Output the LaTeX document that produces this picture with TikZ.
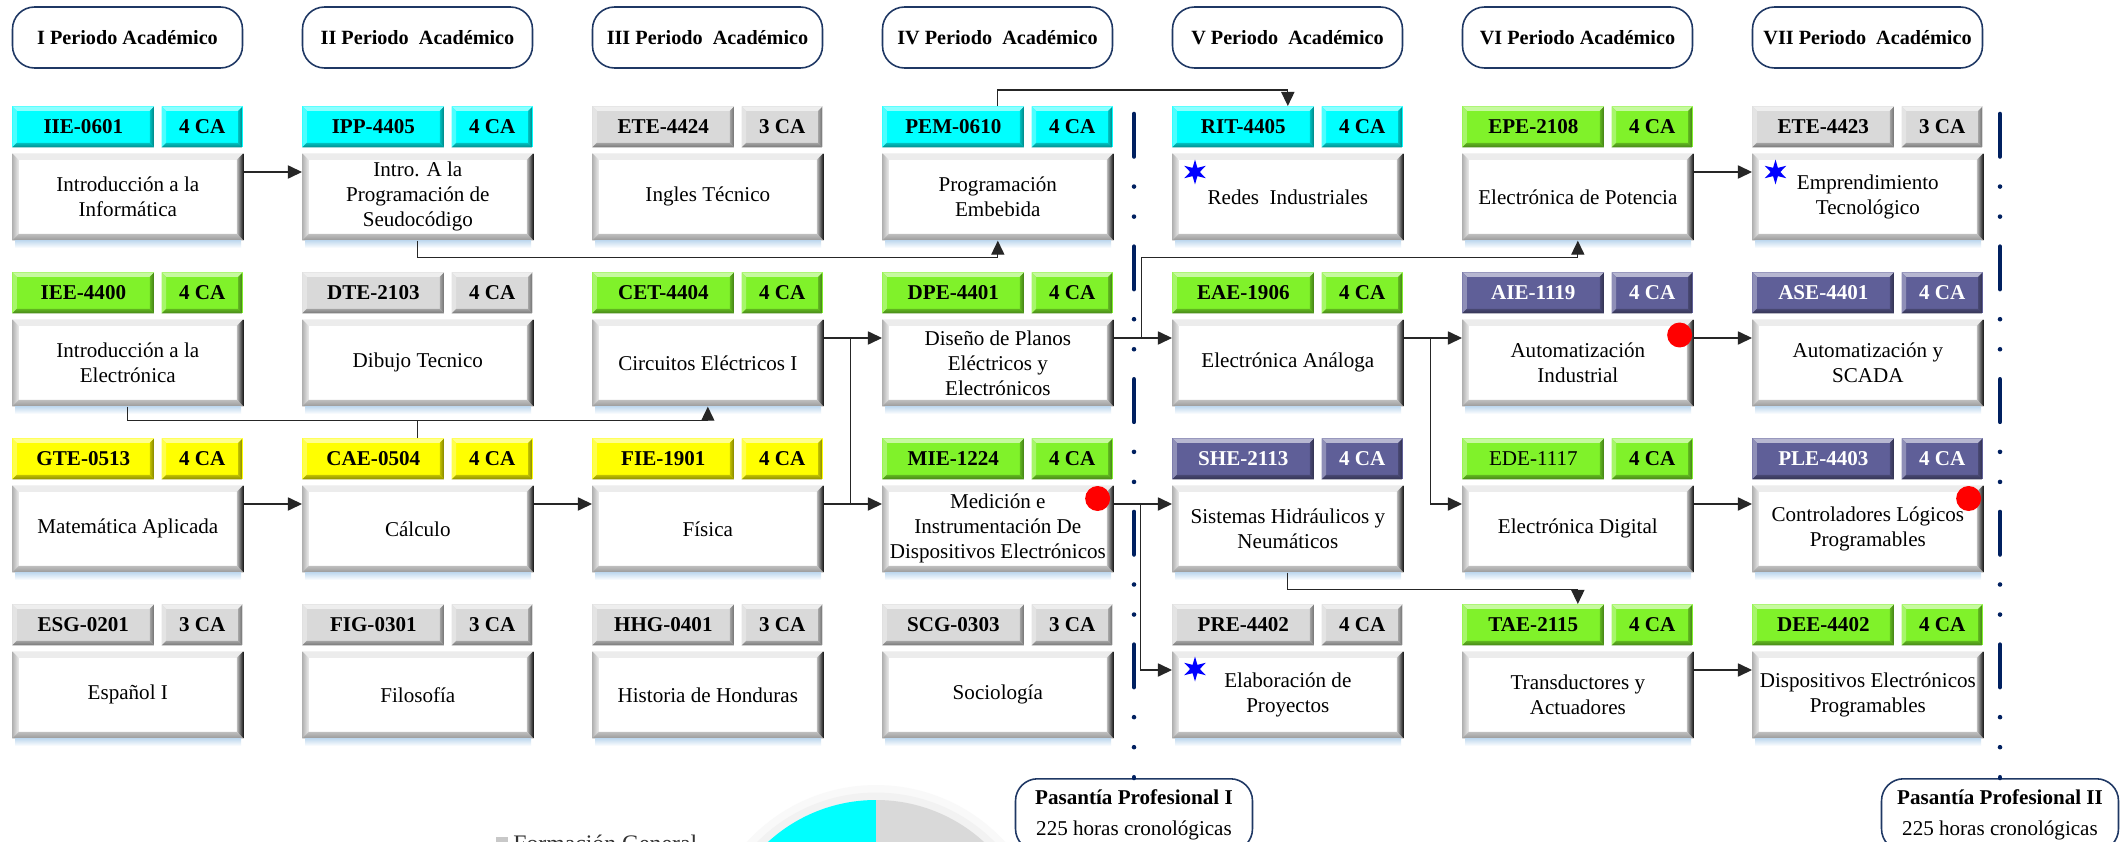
\documentclass[tikz,border=0pt]{standalone}
\usepackage{fontspec}
\setmainfont{Liberation Serif}
\usepackage{tikz}
\usetikzlibrary{arrows.meta,calc,shapes.geometric}
\definecolor{cian}{HTML}{00FFFF}
\definecolor{verde}{HTML}{80F22A}
\definecolor{amarillo}{HTML}{FFFF00}
\definecolor{gris}{HTML}{D9D9D9}
\definecolor{morado}{HTML}{5F5F98}
\definecolor{azul}{HTML}{1F3864}
\definecolor{marino}{HTML}{002060}
\definecolor{sombra}{HTML}{BDD7EE}
\definecolor{leyenda}{HTML}{C8C8C8}

\tikzset{
  bisel/.style n args={5}{path picture={
    \path (path picture bounding box.north west) coordinate (bnw)
          (path picture bounding box.north east) coordinate (bne)
          (path picture bounding box.south west) coordinate (bsw)
          (path picture bounding box.south east) coordinate (bse);
    \path[#2] (bnw) -- (bne) -- ([shift={(-#1,-#1)}]bne) -- ([shift={(#1,-#1)}]bnw) -- cycle;
    \path[#3] (bnw) -- ([shift={(#1,-#1)}]bnw) -- ([shift={(#1,#1)}]bsw) -- (bsw) -- cycle;
    \path[#4] (bne) -- (bse) -- ([shift={(-#1,#1)}]bse) -- ([shift={(-#1,-#1)}]bne) -- cycle;
    \path[#5] (bsw) -- ([shift={(#1,#1)}]bsw) -- ([shift={(-#1,#1)}]bse) -- (bse) -- cycle;
  }},
  cab/.style={minimum height=0.82cm, inner sep=0pt, font=\bfseries\fontsize{12}{14}\selectfont},
  hcol/.style={fill=#1, bisel={0.09cm}{fill=#1!45!white}{fill=#1!70!white}%
    {left color=#1!75!black, right color=#1!50!black}{top color=#1!75!black, bottom color=#1!55!black}},
  hcian/.style={hcol=cian},
  hverde/.style={hcol=verde},
  hamar/.style={hcol=amarillo},
  hgris/.style={hcol=gris},
  hmorado/.style={hcol=morado, text=white},
  cuerpo/.style={minimum width=4.62cm, minimum height=1.74cm, inner sep=0pt, fill=white,
    align=center, font=\fontsize{12}{14.2}\selectfont,
    bisel={0.13cm}{fill=gray!15}{left color=gray!60, right color=gray!15}%
      {left color=gray!50, right color=black!90}{top color=gray!50, bottom color=gray!80}},
  periodo/.style={draw=azul, line width=0.9pt, rounded corners=0.44cm, fill=white,
    minimum width=4.6cm, minimum height=1.22cm, font=\bfseries\fontsize{11.5}{13}\selectfont},
  pasantia/.style={draw=azul, line width=0.9pt, rounded corners=0.44cm, fill=white,
    align=center, minimum width=4.74cm, inner ysep=6pt, font=\fontsize{12}{18}\selectfont},
  linea/.style={draw=black!85, line width=0.7pt},
  flecha/.style={linea, -{Triangle[length=8pt,width=7.5pt]}},
  corte/.style={draw=marino, line width=2.6pt, line cap=round,
    dash pattern=on 24.2pt off 17.1pt on 0pt off 17.1pt on 0pt off 17.1pt},
  estrella/.style={star, star points=6, star point ratio=2.6, minimum size=0.5cm, inner sep=0pt, fill=blue},
  punto/.style={circle, fill=red, minimum size=0.5cm, inner sep=0pt}
}

% #1 nombre, #2 x, #3 y, #4 color, #5 codigo, #6 creditos, #7 asignatura
\newcommand{\curso}[7]{%
  \node[cab, #4, minimum width=2.84cm, anchor=north west] (#1c) at (#2,#3) {#5};
  \node[cab, #4, minimum width=1.62cm, anchor=north east] (#1k) at ({#2+231},#3) {#6};
  \node[cuerpo, anchor=north west] (#1) at (#2,{#3+47}) {#7};
  \shade[top color=sombra, bottom color=white] ({#2+3},{#3+134}) rectangle ({#2+229},{#3+142});
}

\begin{document}
\begin{tikzpicture}[x=0.02cm, y=-0.02cm]
	\path[use as bounding box, fill=white] (0,0) rectangle (2121,842);
	\clip (0,0) rectangle (2121,842);

	\node[periodo] (per1) at (127.5,37.5) {I Periodo Académico};
	\node[periodo] (per2) at (417.5,37.5) {II Periodo~ Académico};
	\node[periodo] (per3) at (707.5,37.5) {III Periodo~ Académico};
	\node[periodo] (per4) at (997.5,37.5) {IV Periodo~ Académico};
	\node[periodo] (per5) at (1287.5,37.5) {V Periodo~ Académico};
	\node[periodo] (per6) at (1577.5,37.5) {VI Periodo Académico};
	\node[periodo] (per7) at (1867.5,37.5) {VII Periodo~ Académico};

	\curso{iie}{12}{106}{hcian}{IIE-0601}{4 CA}{Introducción a la\\Informática}
	\curso{ipp}{302}{106}{hcian}{IPP-4405}{4 CA}{Intro. A la\\Programación de\\Seudocódigo}
	\curso{etea}{592}{106}{hgris}{ETE-4424}{3 CA}{Ingles Técnico}
	\curso{pem}{882}{106}{hcian}{PEM-0610}{4 CA}{Programación\\Embebida}
	\curso{rit}{1172}{106}{hcian}{RIT-4405}{4 CA}{Redes~ Industriales}
	\curso{epe}{1462}{106}{hverde}{EPE-2108}{4 CA}{Electrónica de Potencia}
	\curso{eteb}{1752}{106}{hgris}{ETE-4423}{3 CA}{Emprendimiento\\Tecnológico}

	\curso{iee}{12}{272}{hverde}{IEE-4400}{4 CA}{Introducción a la\\Electrónica}
	\curso{dte}{302}{272}{hgris}{DTE-2103}{4 CA}{Dibujo Tecnico}
	\curso{cet}{592}{272}{hverde}{CET-4404}{4 CA}{Circuitos Eléctricos I}
	\curso{dpe}{882}{272}{hverde}{DPE-4401}{4 CA}{Diseño de Planos\\Eléctricos y\\Electrónicos}
	\curso{eae}{1172}{272}{hverde}{EAE-1906}{4 CA}{Electrónica Análoga}
	\curso{aie}{1462}{272}{hmorado}{AIE-1119}{4 CA}{Automatización\\Industrial}
	\curso{ase}{1752}{272}{hmorado}{ASE-4401}{4 CA}{Automatización y\\SCADA}

	\curso{gte}{12}{438}{hamar}{GTE-0513}{4 CA}{Matemática Aplicada}
	\curso{cae}{302}{438}{hamar}{CAE-0504}{4 CA}{Cálculo}
	\curso{fie}{592}{438}{hamar}{FIE-1901}{4 CA}{Física}
	\curso{mie}{882}{438}{hverde}{MIE-1224}{4 CA}{Medición e\\Instrumentación De\\Dispositivos Electrónicos}
	\curso{she}{1172}{438}{hmorado}{SHE-2113}{4 CA}{Sistemas Hidráulicos y\\Neumáticos}
	\curso{ede}{1462}{438}{hverde}{\mdseries EDE-1117}{4 CA}{Electrónica Digital}
	\curso{ple}{1752}{438}{hmorado}{PLE-4403}{4 CA}{Controladores Lógicos\\Programables}

	\curso{esg}{12}{604}{hgris}{ESG-0201}{3 CA}{Español I}
	\curso{fig}{302}{604}{hgris}{FIG-0301}{3 CA}{Filosofía}
	\curso{hhg}{592}{604}{hgris}{HHG-0401}{3 CA}{Historia de Honduras}
	\curso{scg}{882}{604}{hgris}{SCG-0303}{3 CA}{Sociología}
	\curso{pre}{1172}{604}{hgris}{PRE-4402}{4 CA}{Elaboración de\\Proyectos}
	\curso{tae}{1462}{604}{hverde}{TAE-2115}{4 CA}{Transductores y\\Actuadores}
	\curso{dee}{1752}{604}{hverde}{DEE-4402}{4 CA}{Dispositivos Electrónicos\\Programables}

	\node[estrella] (est1) at ([xshift=0.46cm,yshift=-0.38cm]rit.north west) {};
	\node[estrella] (est2) at ([xshift=0.47cm,yshift=-0.38cm]eteb.north west) {};
	\node[estrella] (est3) at ([xshift=0.46cm,yshift=-0.36cm]pre.north west) {};
	\node[punto] (pto1) at ([xshift=-0.32cm,yshift=-0.27cm]mie.north east) {};
	\node[punto] (pto2) at ([xshift=-0.28cm,yshift=-0.32cm]aie.north east) {};
	\node[punto] (pto3) at ([xshift=-0.3cm,yshift=-0.27cm]ple.north east) {};

	\draw[flecha] ([yshift=-0.38cm]iie.north east) -- ([yshift=-0.38cm]ipp.north west);
	\draw[flecha] (ipp.south) -- ++(0,17) -| (pem.south);
	\draw[flecha] (pem.north |- pemc.north) -- ++(0,-16) -| (rit.north |- ritc.north);
	\draw[flecha] ([yshift=-0.38cm]epe.north east) -- ([yshift=-0.38cm]eteb.north west);

	\draw[flecha] (iee.south) -- ++(0,14) -| (cet.south);
	\draw[linea] (cae.north |- caec.north) -- ++(0,-18);
	\draw[flecha] ([yshift=-0.38cm]cet.north east) -- ([yshift=-0.38cm]dpe.north west);
	\draw[flecha] ([yshift=-0.38cm]fie.north east) -- ([yshift=-0.38cm]mie.north west);
	\draw[linea] ([xshift=0.54cm,yshift=-0.38cm]cet.north east) -- ([xshift=0.54cm,yshift=-0.38cm]fie.north east);
	\draw[flecha] ([yshift=-0.38cm]dpe.north east) -- ([yshift=-0.38cm]eae.north west);
	\draw[flecha] ([xshift=0.56cm,yshift=-0.38cm]dpe.north east) |- ([yshift=-0.34cm]epe.south) -- (epe.south);
	\draw[flecha] ([yshift=-0.38cm]eae.north east) -- ([yshift=-0.38cm]aie.north west);
	\draw[flecha] ([xshift=0.54cm,yshift=-0.38cm]eae.north east) |- ([yshift=-0.38cm]ede.north west);
	\draw[flecha] ([yshift=-0.38cm]aie.north east) -- ([yshift=-0.38cm]ase.north west);

	\draw[flecha] ([yshift=-0.38cm]gte.north east) -- ([yshift=-0.38cm]cae.north west);
	\draw[flecha] ([yshift=-0.38cm]cae.north east) -- ([yshift=-0.38cm]fie.north west);
	\draw[flecha] ([yshift=-0.38cm]mie.north east) -- ([yshift=-0.38cm]she.north west);
	\draw[flecha] ([xshift=0.54cm,yshift=-0.38cm]mie.north east) |- ([yshift=-0.38cm]pre.north west);
	\draw[flecha] (she.south) -- ++(0,17) -| (tae.north |- taec.north);
	\draw[flecha] ([yshift=-0.38cm]ede.north east) -- ([yshift=-0.38cm]ple.north west);
	\draw[flecha] ([yshift=-0.38cm]tae.north east) -- ([yshift=-0.38cm]dee.north west);

	\coordinate (lin1) at (1134,114);
	\coordinate (lin2) at (2000,114);
	\node[pasantia, anchor=north] (pas1) at (1134,778) {\textbf{Pasantía Profesional I}\\225 horas cronológicas};
	\node[pasantia, anchor=north] (pas2) at (2000,778) {\textbf{Pasantía Profesional II}\\225 horas cronológicas};
	\draw[corte] (lin1) -- (pas1.north);
	\draw[corte] (lin2) -- (pas2.north);

	\coordinate (pastel) at (876,960);
	\fill[gray!5] (pastel) circle[radius=3.5cm];
	\fill[gray!10] (pastel) circle[radius=3.35cm];
	\fill[cian] (pastel) -- (876,800) arc[start angle=90, end angle=225, radius=3.2cm] -- cycle;
	\fill[gris] (pastel) -- (876,800) arc[start angle=90, end angle=-45, radius=3.2cm] -- cycle;
	\fill[leyenda] (496,837) rectangle (508,849);
	\node[anchor=base west, inner sep=0pt, text=black!80, font=\fontsize{13.5}{16}\selectfont] (ley1) at (513,851) {Formación General};
\end{tikzpicture}
\end{document}
